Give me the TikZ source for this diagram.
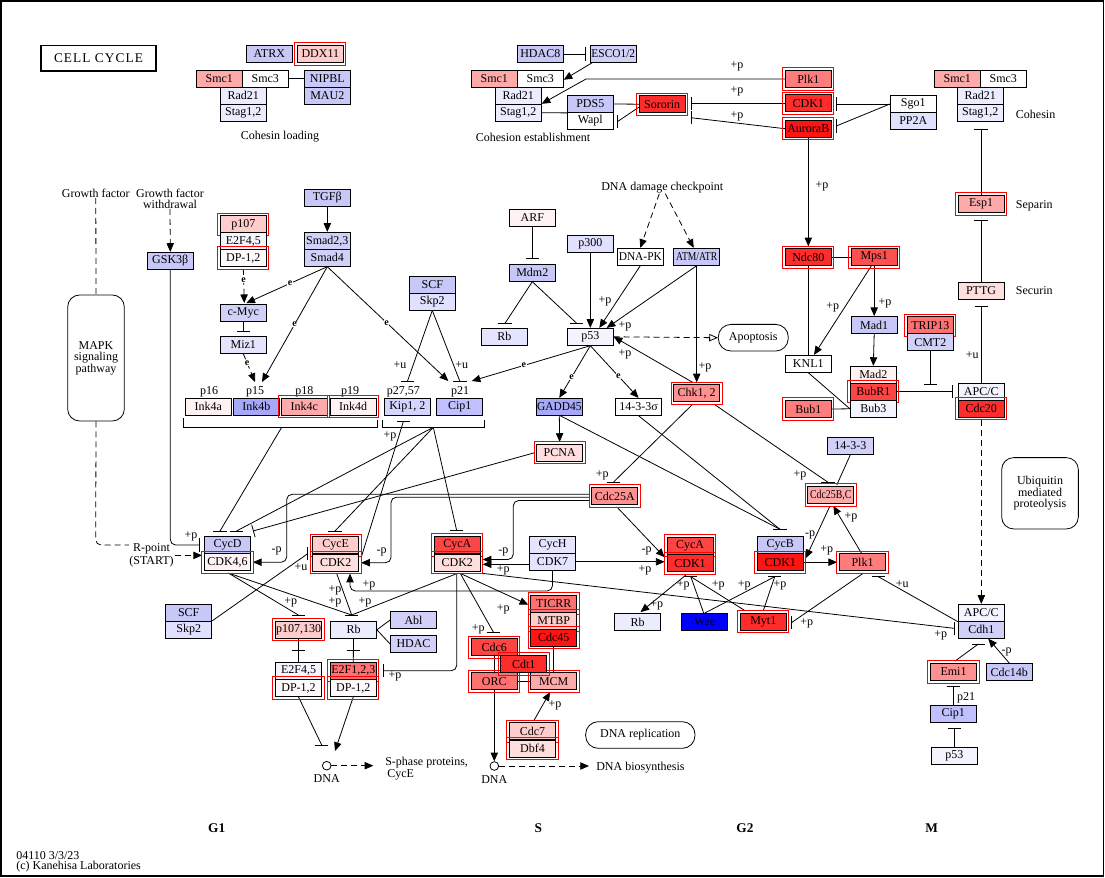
\documentclass[tikz,border=0pt]{standalone}
\usepackage{fontspec}
\setmainfont{Liberation Serif}
\usetikzlibrary{arrows.meta,calc}
\pgfdeclarelayer{bg}
\pgfsetlayers{bg,main}
\definecolor{bA}{RGB}{200,200,248}
\definecolor{bB}{RGB}{208,208,248}
\definecolor{bC}{RGB}{224,224,255}
\definecolor{bD}{RGB}{228,228,255}
\definecolor{bE}{RGB}{236,236,255}
\definecolor{bF}{RGB}{244,244,255}
\definecolor{bG}{RGB}{192,192,255}
\definecolor{bH}{RGB}{168,168,250}
\definecolor{bK}{RGB}{212,212,255}
\definecolor{rA}{RGB}{255,250,250}
\definecolor{rB}{RGB}{255,242,242}
\definecolor{rC}{RGB}{255,222,222}
\definecolor{rD}{RGB}{255,204,204}
\definecolor{rE}{RGB}{255,170,170}
\definecolor{rF}{RGB}{255,144,144}
\definecolor{rG}{RGB}{255,124,124}
\definecolor{rH}{RGB}{255,112,112}
\definecolor{rI}{RGB}{255,80,80}
\definecolor{rJ}{RGB}{255,68,68}
\definecolor{rK}{RGB}{255,44,44}
\definecolor{rL}{RGB}{255,20,20}
\newcommand{\hbr}[1]{\draw[edge] ([xshift=-4.9pt]#1) -- ([xshift=4.9pt]#1);}
\newcommand{\vbr}[1]{\draw[edge] ([yshift=-4.9pt]#1) -- ([yshift=4.9pt]#1);}
\begin{document}
\begin{tikzpicture}[x=0.75pt,y=-0.75pt,
  font=\fontsize{9}{9.5}\selectfont,
  edge/.style={line width=0.6pt},
  arr/.style={-{Triangle[length=6.5pt,width=5.5pt]}},
  dsh/.style={dash pattern=on 4.5pt off 3pt},
  gene/.style={draw,line width=0.6pt,minimum width=34.5pt,minimum height=12.75pt,inner sep=0pt},
  hl/.style={append after command={\pgfextra{\draw[red,line width=0.8pt] ($(\tikzlastnode.north west)+(-2.2,-2.2)$) rectangle ($(\tikzlastnode.south east)+(2.2,2.2)$);}}},
  lbl/.style={inner sep=0.5pt},
  elbl/.style={fill=white,inner sep=0.3pt,font=\fontsize{7.5}{7.5}\bfseries\selectfont},
  txt/.style={inner sep=0pt},
  rbox/.style={draw,line width=0.6pt,inner sep=0pt,align=center,font=\fontsize{9}{8.5}\selectfont}
]
\useasboundingbox (0,0) rectangle (1105,877);
\draw[line width=1.2pt] (1,1) rectangle (1103.5,876);

% ---------- title and free texts
\node[draw,line width=1.3pt,minimum width=86.7pt,minimum height=19pt,inner sep=0pt] (title) at (98.5,58.3) {\fontsize{10}{12}\selectfont\addfontfeatures{LetterSpace=8}CELL CYCLE};
\node[txt] (tCL) at (280,137) {Cohesin loading};
\node[txt] (tCE) at (533,137) {Cohesion establishment};
\node[txt,anchor=west] (tCoh) at (1015.7,114) {Cohesin};
\node[txt,anchor=west] (tSep) at (1015.7,206) {Separin};
\node[txt,anchor=west] (tSec) at (1015.7,291) {Securin};
\node[txt] (tGF) at (95.8,193.3) {Growth factor};
\node[txt,align=center,font=\fontsize{9}{8.5}\selectfont] (tGFW) at (170,198.7) {Growth factor\\withdrawal};
\node[txt] (tDDC) at (662.3,188) {DNA damage checkpoint};
\node[txt] (tp16) at (209,391.7) {p16};
\node[txt] (tp15) at (255,391.7) {p15};
\node[txt] (tp18) at (304.3,391.7) {p18};
\node[txt] (tp19) at (350,391.7) {p19};
\node[txt] (tp27) at (403.3,391.7) {p27,57};
\node[txt] (tp21) at (460,391.7) {p21};
\node[txt] (tp21b) at (966,697.3) {p21};
\node[txt,align=center,font=\fontsize{9}{8}\selectfont] (tR) at (151.5,555.4) {R-point\\(START)};
\node[txt,anchor=west,align=left,font=\fontsize{9}{8.5}\selectfont] (tSph) at (385,768.5) {S-phase proteins,\\\,CycE};
\node[txt] (tDNA1) at (326.7,779) {DNA};
\node[txt] (tDNA2) at (494.3,780) {DNA};
\node[txt,anchor=west] (tDB) at (596,768) {DNA biosynthesis};
\node[txt,font=\fontsize{10}{12}\bfseries\selectfont] (tG1) at (216.7,828.3) {G1};
\node[txt,font=\fontsize{10}{12}\bfseries\selectfont] (tS) at (538.3,828.3) {S};
\node[txt,font=\fontsize{10}{12}\bfseries\selectfont] (tG2) at (745,828.3) {G2};
\node[txt,font=\fontsize{10}{12}\bfseries\selectfont] (tM) at (931.7,828.3) {M};
\node[txt,anchor=west] (tVer) at (16,855.3) {04110 3/3/23};
\node[txt,anchor=west] (tCop) at (16,866.7) {(c) Kanehisa Laboratories};

% ---------- rounded boxes
\node[rbox,rounded corners=9pt,minimum width=42.5pt,minimum height=94.5pt] (MAPK) at (96,358) {MAPK\\signaling\\pathway};
\node[rbox,rounded corners=9pt,minimum width=57.5pt,minimum height=53.5pt] (Ubiq) at (1040,493.3) {Ubiquitin\\mediated\\proteolysis};
\node[rbox,rounded corners=9.5pt,minimum width=52.5pt,minimum height=20pt] (Apop) at (753.3,337.7) {Apoptosis};
\node[rbox,rounded corners=9.5pt,minimum width=82pt,minimum height=20pt] (DNArep) at (640.3,735) {DNA replication};
\node[circle,draw,line width=0.6pt,minimum size=6.5pt,inner sep=0pt] (DNA1) at (326.7,765.7) {};
\node[circle,draw,line width=0.6pt,minimum size=6.5pt,inner sep=0pt] (DNA2) at (494.3,766) {};

% ---------- genes: top
\node[gene,fill=bA] (ATRX) at (269.3,54) {ATRX};
\node[gene,fill=rD,hl] (DDX11) at (320.3,54) {DDX11};
\node[gene,fill=rE] (Smc1a) at (219.3,78.8) {Smc1};
\node[gene,fill=white] (Smc3a) at (265.3,78.8) {Smc3};
\node[gene,fill=bE] (Rad21a) at (243.3,95.8) {Rad21};
\node[gene,fill=bE] (Staga) at (243.3,112.7) {Stag1,2};
\node[gene,fill=bA] (NIPBL) at (327.3,78.8) {NIPBL};
\node[gene,fill=bA] (MAU2) at (327.3,95.8) {MAU2};
\node[gene,fill=bA] (HDAC8) at (540.3,54) {HDAC8};
\node[gene,fill=bB] (ESCO) at (613.3,54) {\scalebox{0.95}[1]{ESCO1/2}};
\node[gene,fill=rE] (Smc1b) at (494.3,78.8) {Smc1};
\node[gene,fill=white] (Smc3b) at (540.3,78.8) {Smc3};
\node[gene,fill=bE] (Rad21b) at (518.3,95.8) {Rad21};
\node[gene,fill=bE] (Stagb) at (518.3,112.7) {Stag1,2};
\node[gene,fill=bA] (PDS5) at (590.3,104) {PDS5};
\node[gene,fill=white] (Wapl) at (590.3,120.8) {Wapl};
\node[gene,fill=rK,hl] (Sororin) at (662.2,104.2) {Sororin};
\node[gene,fill=rG,hl] (Plk1t) at (808.3,79) {Plk1};
\node[gene,fill=rK,hl] (CDK1t) at (808.3,103.3) {CDK1};
\node[gene,fill=rL,hl] (AurB) at (808.3,128.7) {AuroraB};
\node[gene,fill=white] (Sgo1) at (913.3,104) {Sgo1};
\node[gene,fill=bC] (PP2A) at (913.3,120.8) {PP2A};
\node[gene,fill=rE] (Smc1c) at (957.3,78.8) {Smc1};
\node[gene,fill=white] (Smc3c) at (1003.3,78.8) {Smc3};
\node[gene,fill=bE] (Rad21c) at (980.3,95.8) {Rad21};
\node[gene,fill=bE] (Stagc) at (980.3,112.7) {Stag1,2};
\node[gene,fill=rE,hl] (Esp1) at (981,204) {Esp1};
\node[gene,fill=rC] (PTTG) at (981,290.7) {PTTG};
\node[gene,fill=rK,hl] (Ndc80) at (808.3,257.2) {Ndc80};
\node[gene,fill=rI,hl] (Mps1) at (874.2,257.2) {Mps1};
\node[gene,fill=bA] (Mad1) at (874.2,325) {Mad1};
\node[gene,fill=white] (KNL1) at (808.3,363.8) {KNL1};
\node[gene,fill=rB] (Mad2) at (873.3,374.8) {Mad2};
\node[gene,fill=rJ,hl] (BubR1) at (873.3,391.8) {BubR1};
\node[gene,fill=bF] (Bub3) at (873.3,408.8) {Bub3};
\node[gene,fill=rG,hl] (Bub1) at (808.3,409) {Bub1};
\node[gene,fill=rH,hl] (TRIP13) at (930.3,325.2) {TRIP13};
\node[gene,fill=bB] (CMT2) at (930.3,342.2) {CMT2};
\node[gene,fill=bF] (APCa) at (981.3,391.8) {APC/C};
\node[gene,fill=rK,hl] (Cdc20) at (981.3,408.8) {Cdc20};

% ---------- genes: middle
\node[gene,fill=rB] (ARF) at (532.3,218) {ARF};
\node[gene,fill=bA] (Mdm2) at (532.3,272.8) {Mdm2};
\node[gene,fill=bC] (p300) at (590.3,243.8) {p300};
\node[gene,fill=white] (DNAPK) at (640.3,256.8) {\scalebox{0.95}[1]{DNA-PK}};
\node[gene,fill=bA] (ATMATR) at (696.7,256.8) {\scalebox{0.8}[1]{ATM/ATR}};
\node[gene,fill=bD] (Rba) at (504.3,336.8) {Rb};
\node[gene,fill=bF] (p53a) at (590.3,336.8) {p53};
\node[gene,fill=rF,hl] (Chk12) at (696.7,393.3) {Chk1, 2};
\node[gene,fill=bH] (GADD45) at (559.3,406.8) {\scalebox{0.95}[1]{GADD45}};
\node[gene,fill=white] (s1433s) at (638.5,406.8) {14-3-3σ};
\node[gene,fill=rC,hl] (PCNA) at (559.7,452.8) {PCNA};
\node[gene,fill=rF,hl] (Cdc25A) at (614.8,496) {Cdc25A};
\node[gene,fill=bA] (SCFa) at (432.3,284.7) {SCF};
\node[gene,fill=bC] (Skp2a) at (432.3,301.5) {Skp2};
\node[gene,fill=bK] (Kip12) at (407.3,406.8) {Kip1, 2};
\node[gene,fill=bG] (Cip1a) at (459.7,406.8) {Cip1};
\node[gene,fill=bB] (sB1433) at (850.3,446) {14-3-3};
\node[gene,fill=rE,hl] (C25BC) at (830.7,495) {\scalebox{0.82}[1]{Cdc25B,C}};
\node[gene,fill=bA] (CycB) at (780.3,545) {CycB};
\node[gene,fill=rL,hl] (CDK1b) at (780.3,562.2) {CDK1};
\node[gene,fill=rG,hl] (Plk1b) at (862.5,562.2) {Plk1};
\node[gene,fill=bF] (APCb) at (981.3,612.8) {APC/C};
\node[gene,fill=bB] (Cdh1) at (981.3,629.8) {Cdh1};
\node[gene,fill=rF,hl] (Emi1) at (953.5,672) {Emi1};
\node[gene,fill=bA] (Cdc14b) at (1009.3,672) {Cdc14b};
\node[gene,fill=bG] (Cip1b) at (953.3,714.2) {Cip1};
\node[gene,fill=bF] (p53b) at (954.3,755.8) {p53};
\node[gene,fill=rK,hl] (Myt1) at (763.3,621.5) {Myt1};
\node[gene,fill=blue] (Wee) at (704.7,622) {Wee};
\node[gene,fill=bE] (Rbc) at (637.5,622) {Rb};

% ---------- genes: left
\node[gene,fill=bA] (GSK3b) at (170.3,260.8) {GSK3β};
\node[gene,fill=rD,hl] (p107) at (243.3,224.3) {p107};
\node[gene,fill=bF] (E2F45a) at (243.3,241.3) {E2F4,5};
\node[gene,fill=rA,hl] (DP12a) at (243.3,258) {DP-1,2};
\node[gene,fill=bA] (TGFb) at (327.3,197.8) {TGFβ};
\node[gene,fill=bB] (Smad23) at (327.3,240.8) {Smad2,3};
\node[gene,fill=bB] (Smad4) at (327.3,257.8) {Smad4};
\node[gene,fill=bB] (cMyc) at (243.3,313) {c-Myc};
\node[gene,fill=bD] (Miz1) at (243.3,344.8) {Miz1};
\node[gene,fill=rB] (Ink4a) at (208.3,406.8) {Ink4a};
\node[gene,fill=bH] (Ink4b) at (256.3,406.8) {Ink4b};
\node[gene,fill=rE,hl] (Ink4c) at (304.3,406.8) {Ink4c};
\node[gene,fill=rB,hl] (Ink4d) at (353,406.8) {Ink4d};

% ---------- genes: bottom
\node[gene,fill=bA] (CycD) at (227.5,545) {CycD};
\node[gene,fill=rB,hl] (CDK46) at (227.5,562.2) {CDK4,6};
\node[gene,fill=rD,hl] (CycE) at (335.7,545.2) {CycE};
\node[gene,fill=rC,hl] (CDK2e) at (335.7,562.7) {CDK2};
\node[gene,fill=rJ,hl] (CycA2) at (457.3,545) {CycA};
\node[gene,fill=rC,hl] (CDK2a) at (457.3,562.5) {CDK2};
\node[gene,fill=bD] (CycH) at (552.5,545) {CycH};
\node[gene,fill=bD] (CDK7) at (552.5,561.8) {CDK7};
\node[gene,fill=rJ,hl] (CycA1) at (690,545.5) {CycA};
\node[gene,fill=rK,hl] (CDK1a) at (690,563.2) {CDK1};
\node[gene,fill=bA] (SCFb) at (188.7,612.8) {SCF};
\node[gene,fill=bC] (Skp2b) at (188.7,629.8) {Skp2};
\node[gene,fill=rD,hl] (p107130) at (298.5,629.8) {p107,130};
\node[gene,fill=bE] (Rbb) at (353.5,629.8) {Rb};
\node[gene,fill=bB] (Abl) at (413.5,620) {Abl};
\node[gene,fill=bB] (HDAC) at (413.5,644) {HDAC};
\node[gene,fill=bF] (E2F45b) at (298.5,670.8) {E2F4,5};
\node[gene,fill=rA,hl] (DP12b) at (298.5,688) {DP-1,2};
\node[gene,fill=rH,hl] (E2F123) at (353.3,670.8) {E2F1,2,3};
\node[gene,fill=rA,hl] (DP12c) at (353.3,688) {DP-1,2};
\node[gene,fill=rH,hl] (TICRR) at (553.7,603.7) {TICRR};
\node[gene,fill=rD,hl] (MTBP) at (553.7,620.8) {MTBP};
\node[gene,fill=rL,hl] (Cdc45) at (553.7,637.8) {Cdc45};
\node[gene,fill=rJ,hl] (Cdc6) at (494.3,647.3) {Cdc6};
\node[gene,fill=rH,hl] (ORC) at (494.3,681.2) {ORC};
\node[gene,fill=rE,hl] (MCM) at (553.7,681.2) {MCM};
\node[gene,fill=rK,hl] (Cdt1) at (523.7,664) {Cdt1};
\node[gene,fill=rD,hl] (Cdc7) at (532.5,731.3) {Cdc7};
\node[gene,fill=rC,hl] (Dbf4) at (532.5,748.5) {Dbf4};

% ---------- coordinates
\coordinate (bESCO) at (585,54);
\coordinate (bSor1) at (691.7,103.3);
\coordinate (bSor2) at (691.7,117.8);
\coordinate (bWapl) at (617.7,121.5);
\coordinate (bCDK1t) at (836.3,104);
\coordinate (bAurB) at (836.3,126);
\coordinate (bCoh) at (981,129.3);
\coordinate (bEsp) at (981,220.3);
\coordinate (bPTTG) at (981.3,306);
\coordinate (bCMT) at (930.3,384.3);
\coordinate (bAPC) at (952,391.8);
\coordinate (bMdmRb) at (505,323.3);
\coordinate (bMdmP53) at (576.7,323.3);
\coordinate (bARF) at (532.3,258.3);
\coordinate (bMyc) at (243.3,331);
\coordinate (bKip) at (407.3,381.7);
\coordinate (bCip) at (460,381.7);
\coordinate (aCip1) at (448.3,381);
\coordinate (aCip2) at (471.7,381);
\coordinate (aInk1) at (255,382);
\coordinate (aInk2) at (262,382);
\coordinate (bKipu) at (403.3,421.7);
\coordinate (bD1) at (220,531);
\coordinate (bD2) at (236.5,531);
\coordinate (bD3) at (253,531);
\coordinate (bE) at (335,531);
\coordinate (bA2) at (456.7,530.7);
\coordinate (bGSK) at (199.3,545);
\coordinate (bEu) at (307.7,553.7);
\coordinate (bp107) at (298.3,615);
\coordinate (bRb) at (351.7,615);
\coordinate (bp107E) at (298.5,650);
\coordinate (bRbE) at (353.4,650);
\coordinate (bE2F) at (383.3,670.7);
\coordinate (bDNA) at (321.7,745);
\coordinate (aDNA1) at (335,751);
\coordinate (aSph) at (373.3,765.7);
\coordinate (bCdc6) at (493.7,632.7);
\coordinate (bA1) at (690.8,576.7);
\coordinate (bB1) at (774.7,576.7);
\coordinate (bMyt) at (791.7,622.5);
\coordinate (bPlk) at (878.3,576.7);
\coordinate (bCdh1) at (954,628.3);
\coordinate (bCdh1b) at (978.3,644);
\coordinate (bEmi) at (953.3,686.7);
\coordinate (bCipb) at (954.3,728.3);
\coordinate (bC25A) at (613.3,482.3);
\coordinate (bC25BC) at (828,482.3);
\coordinate (bB) at (780,529.3);
\coordinate (brI) at (281.7,427.3);
\coordinate (brK) at (433.3,427.3);

% ---------- connectors
\begin{pgfonlayer}{bg}
% cohesin
\draw[edge] (Smc3a.east) -- (NIPBL.west);
\draw[edge] (HDAC8.east) -- (bESCO);
\draw[edge,arr] ($(ESCO.south west)+(2,0)$) -- ($(Smc3b.east)+(0,1)$);
\draw[edge,arr] (Plk1t.west) -- (586,79) -- (Stagb.north east);
\draw[edge] (Stagb.east) -- (PDS5.south west);
\draw[edge] (PDS5.east) -- (Sororin.west);
\draw[edge] ($(Sororin.west)+(0,3)$) -- (bWapl);
\draw[edge] (CDK1t.west) -- (bSor1);
\draw[edge] (AurB.west) -- (bSor2);
\draw[edge] (Sgo1.west) -- (bCDK1t);
\draw[edge] (Sgo1.west) -- (bAurB);
\draw[edge,arr] (AurB.south) -- ($(Ndc80.north)+(0,-2)$);
\draw[edge] (Esp1.north) -- (bCoh);
\draw[edge] (PTTG.north) -- (bEsp);
\draw[edge] (APCa.north) -- (bPTTG);
\draw[edge] (Ndc80.east) -- (Mps1.west);
\draw[edge,arr] (Mps1.south) -- (Mad1.north);
\draw[edge,arr] ($(Mps1.south)+(-3,0)$) -- ($(KNL1.north)+(5.7,0)$);
\draw[edge] (Ndc80.south) -- (KNL1.north);
\draw[edge,arr] (Mad1.south) -- (Mad2.north);
\draw[edge] (KNL1.south) -- (Bub3.west);
\draw[edge] (Bub1.east) -- (Bub3.west);
\draw[edge] (CMT2.south) -- (bCMT);
\draw[edge] (BubR1.east) -- (bAPC);
\draw[edge,dsh,arr] ($(Cdc20.south)+(0,2)$) -- (APCb.north);
% growth factors
\draw[edge,dsh] (tGF.south) -- (MAPK.north);
\draw[edge,dsh,arr] (tGFW.south) -- (GSK3b.north);
\draw[edge,dsh,arr] ($(DP12a.south)+(0,2)$) -- node[elbl,pos=0.32]{e} ($(cMyc.north)+(1,-1)$);
\draw[edge,arr] (Smad4.south) -- node[elbl,pos=0.46]{e} ($(cMyc.north)+(3,-1)$);
\draw[edge,arr] (TGFb.south) -- (Smad23.north);
\draw[edge] (cMyc.south) -- (bMyc);
\draw[edge,dsh,arr] (Miz1.south) -- node[elbl,pos=0.33]{e} (aInk1);
\draw[edge,arr] (Smad4.south) -- node[elbl,pos=0.5]{e} (aInk2);
\draw[edge,arr] (Smad4.south) -- node[elbl,pos=0.49]{e} (aCip1);
\draw[edge] (Skp2a.south) -- (bKip);
\draw[edge] (Skp2a.south) -- (bCip);
% p53 module
\draw[edge,dsh,arr] ($(tDDC.south)+(-3,0)$) -- (DNAPK.north);
\draw[edge,dsh,arr] ($(tDDC.south)+(3,0)$) -- ($(ATMATR.north)+(-3,0)$);
\draw[edge] (ARF.south) -- (bARF);
\draw[edge] (Mdm2.south) -- (bMdmRb);
\draw[edge] (Mdm2.south) -- (bMdmP53);
\draw[edge,arr] (p300.south) -- (p53a.north);
\draw[edge,arr] (DNAPK.south) -- ($(p53a.north)+(9,0)$);
\draw[edge,arr] (ATMATR.south) -- ($(p53a.north east)+(-7,0)$);
\draw[edge,arr] (ATMATR.south) -- ($(Chk12.north)+(0,-2)$);
\draw[edge,arr] ($(Chk12.north)+(-4,-2)$) -- (p53a.east);
\draw[edge,dsh,-{Triangle[open,length=6.5pt,width=5.5pt]}] (p53a.east) -- (Apop.west);
\draw[edge,arr] (p53a.south) -- node[elbl,pos=0.56]{e} (aCip2);
\draw[edge,arr] (p53a.south) -- node[elbl,pos=0.6]{e} (GADD45.north);
\draw[edge,arr] (p53a.south) -- node[elbl,pos=0.58]{e} (s1433s.north);
\draw[edge,arr] (GADD45.south) -- ($(PCNA.north)+(0,-2)$);
\draw[edge] ($(GADD45.south)+(1,0)$) -- (bB);
\draw[edge] (s1433s.south) -- (bB);
\draw[edge] ($(Chk12.south)+(-4,2)$) -- (bC25A);
\draw[edge] ($(Chk12.south east)+(-6,2)$) -- (bC25BC);
% brackets
\draw[edge] (183.3,418.3) -- (183.3,427.3) -- (377.3,427.3) -- (377.3,420);
\draw[edge] (382.3,420) -- (382.3,427.3) -- (484.3,427.3) -- (484.3,420);
\draw[edge] (brI) -- (bD1);
\draw[edge] (brK) -- (bD2);
\draw[edge] (brK) -- (bE);
\draw[edge] (brK) -- (bA2);
\draw[edge,-{Bar[width=9.75pt]}] ($(PCNA.west)+(-2,0)$) -- (bD3);
\draw[edge] ($(CDK2e.east)+(2,-5)$) -- (bKipu);
% G1
\draw[edge,rounded corners=4pt] (GSK3b.south) -- (170.3,545) -- (bGSK);
\draw[edge,dsh,rounded corners=4pt] (MAPK.south) -- (95.7,545) -- (tR.west |- CycD.west);
\draw[edge,dsh,arr] ($(tR.east)+(1,0)$) -- ($(CycD.south west)+(-2,1.5)$);
\draw[edge,arr,rounded corners=4pt] ($(Cdc25A.west)+(-2,-1.7)$) -- (286.7,494.3) -- (286.7,562.2) -- ($(CDK46.east)+(2,0)$);
\draw[edge,arr,rounded corners=4pt] ($(Cdc25A.west)+(-2,1.2)$) -- (391,497.2) -- (391,562.7) -- ($(CDK2e.east)+(2,0)$);
\draw[edge,arr,rounded corners=4pt] ($(Cdc25A.west)+(-2,4.5)$) -- (513.3,500.5) -- (513.3,559.5) -- ($(CDK2a.east)+(2,-3)$);
\draw[edge,arr] ($(Cdc25A.south)+(2,2)$) -- ($(CDK1a.west)+(-2,-6)$);
\draw[edge,arr] ($(CDK7.west)+(0,2.5)$) -- ($(CDK2a.east)+(2,1.8)$);
\draw[edge,arr] (CDK7.east) -- ($(CDK7.east -| CDK1a.west)+(-2,0)$);
\draw[edge,arr,rounded corners=4pt] (CDK7.south) -- (552.5,591) -- (350,591) -- ($(CDK2e.south)+(14.3,2)$);
\draw[edge] ($(CDK46.south)+(1,2)$) -- (bp107);
\draw[edge] ($(CDK46.south)+(1,2)$) -- (bRb);
\draw[edge] ($(CDK2e.south)+(1,2)$) -- (bRb);
\draw[edge] ($(CDK2a.south)+(0,2)$) -- (bRb);
\draw[edge] (Skp2b.north east) -- (bEu);
\draw[edge] (p107130.south) -- (E2F45b.north);
\draw[edge] (Rbb.south) -- (E2F123.north);
\draw[edge] (Rbb.east) -- (Abl.west);
\draw[edge] (Rbb.east) -- (HDAC.west);
\draw[edge,rounded corners=4pt] ($(CDK2a.south)+(-0.6,2)$) -- (456.7,670.7) -- (bE2F);
\draw[edge] (DP12b.south) -- (bDNA);
\draw[edge,arr] (DP12c.south) -- (aDNA1);
\draw[edge,dsh,arr] (DNA1.east) -- (aSph);
% S
\draw[edge,arr] ($(CDK2a.south)+(3,2)$) -- ($(TICRR.west)+(-2,1)$);
\draw[edge] ($(CDK2a.south)+(3,2)$) -- (bCdc6);
\draw[edge] (Cdc45.south) -- (MCM.north);
\draw[edge] (Cdc6.south) -- (ORC.north);
\draw[edge] (ORC.east) -- (MCM.west);
\draw[edge,arr] (ORC.south) -- (DNA2.north);
\draw[edge,dsh,arr] (DNA2.east) -- ($(tDB.west)+(-7,-2)$);
\draw[edge,arr] ($(Cdc7.north)+(1.5,-2)$) -- ($(MCM.south)+(-3.7,2)$);
% G2 / M
\draw[edge] (sB1433.south) -- ($(C25BC.north)+(6,-1)$);
\draw[edge,arr] (CDK1b.east) -- ($(Plk1b.west)+(-2,0)$);
\draw[edge,arr] ($(Plk1b.north)+(-1,0)$) -- ($(C25BC.south)+(2.6,2)$);
\draw[edge,arr] ($(C25BC.south)+(-0.7,2)$) -- ($(CDK1b.east)+(2,-4)$);
\draw[edge,arr] ($(CDK1a.south)+(-3,2)$) -- ($(Rbc.north)+(3,-1)$);
\draw[edge] ($(Wee.north)+(-1,0)$) -- (bA1);
\draw[edge] (Wee.north) -- (bB1);
\draw[edge] ($(Myt1.north west)+(5,-2)$) -- (bA1);
\draw[edge] ($(Myt1.north)+(0,-2)$) -- (bB1);
\draw[edge] ($(Plk1b.south)+(1,2)$) -- (bMyt);
\draw[edge] (APCb.south west) -- (bPlk);
\draw[edge] ($(CDK2a.south east)+(2,2)$) -- (bCdh1);
\draw[edge] ($(Emi1.north)+(1.5,-2)$) -- (bCdh1b);
\draw[edge,arr] (Cdc14b.north) -- ($(Cdh1.south)+(7,0)$);
\draw[edge] (Cip1b.north) -- (bEmi);
\draw[edge] (p53b.north) -- (bCipb);
\end{pgfonlayer}

% ---------- inhibition bars
\vbr{bESCO} \vbr{bSor1} \vbr{bSor2} \vbr{bWapl} \vbr{bCDK1t} \vbr{bAurB}
\hbr{bCoh} \hbr{bEsp} \hbr{bPTTG} \hbr{bCMT} \vbr{bAPC}
\hbr{bMdmRb} \hbr{bMdmP53} \hbr{bARF} \hbr{bMyc} \hbr{bKip} \hbr{bCip} \hbr{bKipu}
\hbr{bD1} \hbr{bD2} \hbr{bE} \hbr{bA2} \vbr{bGSK} \vbr{bEu}
\hbr{bp107} \hbr{bRb} \hbr{bp107E} \hbr{bRbE} \vbr{bE2F} \hbr{bDNA} \hbr{bCdc6}
\hbr{bA1} \hbr{bB1} \vbr{bMyt} \hbr{bPlk} \vbr{bCdh1} \hbr{bCdh1b} \hbr{bEmi} \hbr{bCipb}
\hbr{bC25A} \hbr{bC25BC} \hbr{bB}

% ---------- edge labels
\node[lbl] (l1) at (737,66) {+p};
\node[lbl] (l2) at (737,91) {+p};
\node[lbl] (l3) at (737,116) {+p};
\node[lbl] (l4) at (822,186) {+p};
\node[lbl] (l5) at (885,303) {+p};
\node[lbl] (l6) at (832.7,307.3) {+p};
\node[lbl] (l7) at (605,301.7) {+p};
\node[lbl] (l8) at (625,326) {+p};
\node[lbl] (l9) at (705,367.3) {+p};
\node[lbl] (l10) at (625,354) {+p};
\node[lbl] (l11) at (390,436.7) {+p};
\node[lbl] (l12) at (191,536) {+p};
\node[lbl] (l13) at (602.3,475) {+p};
\node[lbl] (l14) at (800,475) {+p};
\node[lbl] (l15) at (826.7,550) {+p};
\node[lbl] (l16) at (851,517.7) {+p};
\node[lbl] (l17) at (656.7,605) {+p};
\node[lbl] (l18) at (683.3,585) {+p};
\node[lbl] (l19) at (718.3,585) {+p};
\node[lbl] (l20) at (744.3,585) {+p};
\node[lbl] (l21) at (780,585) {+p};
\node[lbl] (l22) at (806.7,623.3) {+p};
\node[lbl] (l23) at (940.7,635) {+p};
\node[lbl] (l24) at (503.3,570) {+p};
\node[lbl] (l25) at (645,570.7) {+p};
\node[lbl] (l26) at (369,585) {+p};
\node[lbl] (l27) at (290.7,602.7) {+p};
\node[lbl] (l28) at (335,602.7) {+p};
\node[lbl] (l29) at (335,590) {+p};
\node[lbl] (l30) at (365,602.7) {+p};
\node[lbl] (l31) at (395,676.7) {+p};
\node[lbl] (l32) at (503.3,609.3) {+p};
\node[lbl] (l33) at (478.3,629.3) {+p};
\node[lbl] (l34) at (555,705) {+p};
\node[lbl] (u1) at (400,365) {+u};
\node[lbl] (u2) at (461.7,365) {+u};
\node[lbl] (u3) at (301,567.3) {+u};
\node[lbl] (u4) at (902.3,584) {+u};
\node[lbl] (u5) at (972.3,355) {+u};
\node[lbl] (m1) at (276.7,550.7) {-p};
\node[lbl] (m2) at (381.7,551.7) {-p};
\node[lbl] (m3) at (503.3,551.7) {-p};
\node[lbl] (m4) at (646.7,550.7) {-p};
\node[lbl] (m5) at (810,535) {-p};
\node[lbl] (m6) at (1006.7,651.7) {-p};
\end{tikzpicture}
\end{document}
